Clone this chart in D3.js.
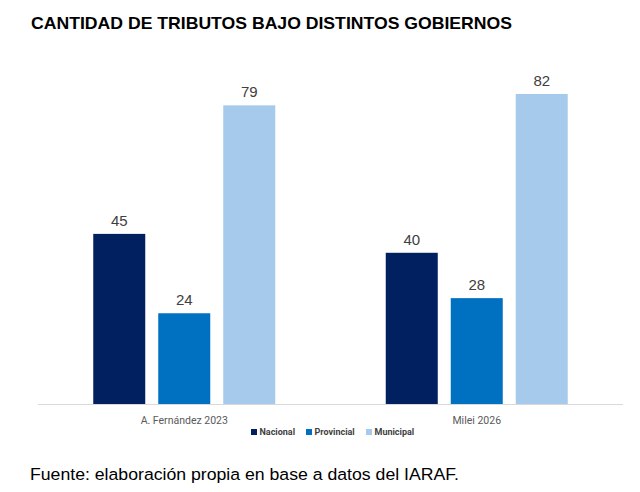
<!DOCTYPE html>
<html>
<head>
<meta charset="utf-8">
<script src="https://cdn.jsdelivr.net/npm/d3@7"></script>
<style>
  body { margin: 0; background: #fff; }
  svg { display: block; }
</style>
</head>
<body>
<script>
// data
let gobiernos = ["A. Fernández 2023", "Milei 2026"]
let niveles = ["Nacional", "Provincial", "Municipal"]
let nacional = [45, 40]
let provincial = [24, 28]
let municipal = [79, 82]

let colores = ["#002060", "#0070C0", "#A6CAEC"]

let width = 640
let height = 492
let baseY = 404
let margin = {left: 38, right: 17}

let filas = gobiernos.map((g, i) => ({
  gobierno: g,
  valores: [nacional[i], provincial[i], municipal[i]]
}))

let svg = d3.select("body").append("svg")
  .attr("width", width)
  .attr("height", height)

svg.append("text")
  .attr("x", 31)
  .attr("y", 29)
  .attr("font-family", "Liberation Sans, Arial, sans-serif")
  .attr("font-weight", "bold")
  .attr("font-size", 17)
  .attr("textLength", 481)
  .attr("lengthAdjust", "spacingAndGlyphs")
  .attr("fill", "#000")
  .text("CANTIDAD DE TRIBUTOS BAJO DISTINTOS GOBIERNOS")

let x0 = d3.scaleBand()
  .domain(gobiernos)
  .range([margin.left, width - margin.right])

let half = x0.bandwidth() / 2
let x1 = d3.scaleBand()
  .domain(niveles)
  .range([half - 91, half + 91])
  .paddingInner(0.2)

let y = d3.scaleLinear()
  .domain([0, 82])
  .range([baseY, baseY - 310])

// axis line
svg.append("line")
  .attr("x1", margin.left)
  .attr("x2", width - margin.right)
  .attr("y1", baseY + 0.5)
  .attr("y2", baseY + 0.5)
  .attr("stroke", "#d9d9d9")
  .attr("stroke-width", 1)

let grupos = svg.selectAll("g.grupo")
  .data(filas)
  .enter().append("g")
    .attr("class", "grupo")
    .attr("transform", d => "translate(" + x0(d.gobierno) + ",0)")

let barras = grupos.selectAll("g.barra")
  .data(d => d.valores.map((v, j) => ({nivel: niveles[j], valor: v, j: j})))
  .enter().append("g")
    .attr("class", "barra")

barras.append("rect")
  .attr("x", d => x1(d.nivel))
  .attr("y", d => y(d.valor))
  .attr("width", x1.bandwidth())
  .attr("height", d => baseY - y(d.valor))
  .attr("fill", d => colores[d.j])

barras.append("text")
  .attr("x", d => x1(d.nivel) + x1.bandwidth() / 2)
  .attr("y", d => y(d.valor) - 8)
  .attr("text-anchor", "middle")
  .attr("font-family", "Liberation Sans, Arial, sans-serif")
  .attr("font-size", 15)
  .attr("fill", "#404040")
  .text(d => d.valor)

// category labels
let xAxis = d3.axisBottom(x0).tickSize(0).tickPadding(0)
let ejeX = svg.append("g")
  .attr("transform", "translate(0," + (baseY + 20) + ")")
  .call(xAxis)
ejeX.select(".domain").remove()
ejeX.selectAll("text")
  .attr("dy", 0)
  .attr("font-family", "Roboto, Liberation Sans, sans-serif")
  .attr("font-size", 10.5)
  .attr("fill", "#595959")

// legend
let legendX = [251, 306, 366]
let leyenda = svg.selectAll("g.leyenda")
  .data(niveles)
  .enter().append("g")
    .attr("class", "leyenda")
    .attr("transform", (d, i) => "translate(" + legendX[i] + ",429)")

leyenda.append("rect")
  .attr("width", 6)
  .attr("height", 6)
  .attr("fill", (d, i) => colores[i])

leyenda.append("text")
  .attr("x", 8.5)
  .attr("y", 6.3)
  .attr("font-family", "Roboto, Liberation Sans, sans-serif")
  .attr("font-weight", "bold")
  .attr("font-size", 9)
  .attr("fill", "#404040")
  .text(d => d)

svg.append("text")
  .attr("x", 30)
  .attr("y", 480)
  .attr("font-family", "Liberation Sans, Arial, sans-serif")
  .attr("font-size", 16.8)
  .attr("textLength", 429)
  .attr("lengthAdjust", "spacingAndGlyphs")
  .attr("fill", "#000")
  .text("Fuente: elaboración propia en base a datos del IARAF.")
</script>
</body>
</html>
